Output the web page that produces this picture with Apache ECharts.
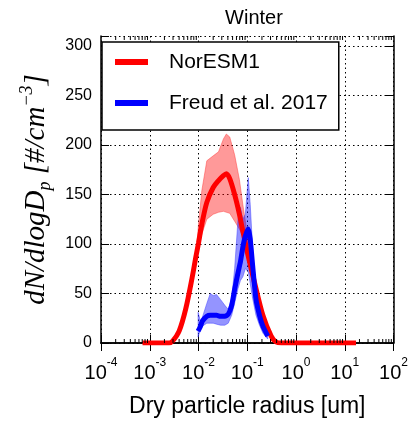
<!DOCTYPE html>
<html><head><meta charset="utf-8">
<script src="https://cdn.jsdelivr.net/npm/echarts@6/dist/echarts.min.js"></script>
<style>html,body{margin:0;padding:0;background:#fff}#c{width:411px;height:426px}</style>
</head><body><div id="c"></div>
<script>
// NorESM1 (model)
const redRadius = [0.00071, 0.0025, 0.00295, 0.004, 0.0055, 0.0074, 0.0089, 0.01, 0.0117, 0.0148, 0.02, 0.0257, 0.0324, 0.0372, 0.0437, 0.055, 0.069, 0.081, 0.1, 0.12, 0.141, 0.209, 0.309, 0.389, 0.5, 17];
const redMean   = [0, 0, 2, 12, 35, 66, 88, 101, 120, 142, 157, 164, 169, 171, 166, 150, 130, 113, 92, 75, 61, 28, 7, 1, 0, 0];
const redHigh   = [0, 0, 2, 12, 35, 66, 88, 120, 154, 184, 189, 193, 206, 211, 208, 190, 165, 140, 110, 85, 64, 30, 7, 1, 0, 0];
const redLow    = [0, 0, 2, 12, 35, 66, 88, 96, 110, 125, 130, 132, 133, 132, 131, 123, 115, 108, 90, 72, 58, 26, 6, 1, 0, 0];
// Freud et al. 2017 (observations)
const blueRadius = [0.0098, 0.011, 0.012, 0.0148, 0.0174, 0.02, 0.0234, 0.0282, 0.0347, 0.0407, 0.0479, 0.055, 0.0646, 0.0724, 0.0813, 0.0912, 0.105, 0.115, 0.129, 0.151, 0.178, 0.209, 0.263];
const blueMean   = [12, 17, 22, 27, 28, 28, 28, 27, 27, 29, 38, 54, 71, 82, 97, 108, 115, 105, 78, 44, 28, 17, 7];
const blueHigh   = [31, 22, 26, 40, 50, 48, 49, 44, 38, 34, 45, 75, 125, 137, 125, 130, 167, 140, 95, 55, 33, 22, 10];
const blueLow    = [6, 14, 17, 20, 20, 20, 19, 18, 18, 20, 28, 40, 55, 63, 67, 75, 72, 60, 45, 28, 18, 10, 4];
// axes
const xTickExponents = ['-4', '-3', '-2', '-1', '0', '1', '2'];
const yTickLabels = [0, 50, 100, 150, 200, 250, 300];
const minorMultipliers = [2, 3, 4, 5, 6, 7, 8, 9];
const decadeStarts = [1e-4, 1e-3, 1e-2, 1e-1, 1, 10];

const FONT = '"Liberation Sans", Arial, sans-serif';
const SERIF = '"Liberation Serif", serif';
const minorTickValues = [];
decadeStarts.forEach(d => minorMultipliers.forEach(m => minorTickValues.push([m * d, 0])));

function pairs(xs, ys) { return xs.map((x, i) => [x, ys[i]]); }

function band(name, xs, lo, hi, fill, edge) {
  return {
    type: 'custom', name: name, silent: true, z: 1,
    xAxisIndex: 0, yAxisIndex: 0,
    data: [[xs[0], lo[0]]],
    renderItem: function (params, api) {
      const pts = [];
      for (let i = 0; i < xs.length; i++) pts.push(api.coord([xs[i], hi[i]]));
      for (let i = xs.length - 1; i >= 0; i--) pts.push(api.coord([xs[i], lo[i]]));
      return { type: 'polygon', shape: { points: pts }, style: { fill: fill, stroke: edge, lineWidth: 0.8 } };
    }
  };
}

const chart = echarts.init(document.getElementById('c'), null, { renderer: 'canvas' });
chart.setOption({
  animation: false,
  backgroundColor: '#fff',
  title: {
    text: 'Winter', left: 249, top: 3, textAlign: 'center',
    textStyle: { fontFamily: FONT, fontSize: 20, fontWeight: 'normal', color: '#000' }
  },
  grid: { left: 101, right: 13, top: 36, bottom: 83, containLabel: false },
  legend: {
    orient: 'vertical', left: 102, top: 42,
    data: ['NorESM1', 'Freud et al. 2017'],
    icon: 'rect', itemWidth: 33, itemHeight: 6, itemGap: 17,
    padding: [8, 11, 15, 13],
    borderColor: '#000', borderWidth: 1.5, backgroundColor: '#fff',
    textStyle: { fontFamily: FONT, fontSize: 21, lineHeight: 24, color: '#000', padding: [0, 0, 0, 16] },
    z: 10
  },
  xAxis: [{
    type: 'log', logBase: 10, min: 1e-4, max: 1e2, position: 'bottom',
    name: 'Dry particle radius [um]', nameLocation: 'middle', nameGap: 52,
    nameTextStyle: { fontFamily: FONT, fontSize: 23, color: '#000' },
    axisLine: { lineStyle: { color: '#000', width: 1.5 } },
    axisTick: { inside: true, length: 8, lineStyle: { color: '#000', width: 1 } },
    axisLabel: {
      margin: 14, color: '#000',
      formatter: function (v) {
        const i = Math.round(Math.log10(v)) + 4;
        return '{b|10}{s|' + xTickExponents[i] + '}';
      },
      rich: {
        b: { fontFamily: FONT, fontSize: 20, color: '#000', lineHeight: 26, verticalAlign: 'bottom' },
        s: { fontFamily: FONT, fontSize: 12, color: '#000', lineHeight: 26, verticalAlign: 'top' }
      }
    },
    splitLine: { show: true, lineStyle: { color: '#000', width: 1, type: [1.5, 3] } }
  }, {
    type: 'log', logBase: 10, min: 1e-4, max: 1e2, position: 'top',
    axisLine: { lineStyle: { color: '#000', width: 1.5 } },
    axisTick: { inside: true, length: 8, lineStyle: { color: '#000', width: 1 } },
    axisLabel: { show: false }, splitLine: { show: false }
  }],
  yAxis: [{
    type: 'value', min: 0, max: 310, interval: 50, position: 'left',
    name: '{a|dN/dlogD}{p|p}{a| [#/cm}{e|\u22123}{a|]}',
    nameLocation: 'middle', nameGap: 46, nameRotate: 90,
    nameTextStyle: {
      rich: {
        a: { fontFamily: SERIF, fontStyle: 'italic', fontSize: 29, color: '#000', lineHeight: 36, verticalAlign: 'middle' },
        p: { fontFamily: SERIF, fontStyle: 'italic', fontSize: 18, color: '#000', lineHeight: 36, verticalAlign: 'bottom' },
        e: { fontFamily: SERIF, fontStyle: 'italic', fontSize: 18, color: '#000', lineHeight: 36, verticalAlign: 'top' }
      }
    },
    axisLine: { show: true, lineStyle: { color: '#000', width: 1.5 } },
    axisTick: { show: true, inside: true, length: 8, lineStyle: { color: '#000', width: 1 } },
    axisLabel: {
      margin: 9, color: '#000', fontFamily: FONT, fontSize: 16,
      formatter: function (v) { return yTickLabels.indexOf(v) >= 0 ? String(v) : ''; }
    },
    splitLine: { show: true, lineStyle: { color: '#000', width: 1, type: [1.5, 3] } }
  }, {
    type: 'value', min: 0, max: 310, interval: 50, position: 'right',
    axisLine: { show: true, lineStyle: { color: '#000', width: 1.5 } },
    axisTick: { show: true, inside: true, length: 8, lineStyle: { color: '#000', width: 1 } },
    axisLabel: { show: false }, splitLine: { show: false }
  }],
  series: [
    band('NorESM1 range', redRadius, redLow, redHigh, 'rgba(255,0,0,0.4)', 'rgba(255,60,60,0.6)'),
    band('Freud range', blueRadius, blueLow, blueHigh, 'rgba(0,0,255,0.42)', 'rgba(60,60,255,0.6)'),
    {
      type: 'line', name: 'NorESM1', data: pairs(redRadius, redMean), showSymbol: false, smooth: 0.3, z: 3,
      color: '#ff0000', lineStyle: { color: '#ff0000', width: 5 }
    },
    {
      type: 'line', name: 'Freud et al. 2017', data: pairs(blueRadius, blueMean), showSymbol: false, smooth: 0.2, z: 4,
      color: '#0000ff', lineStyle: { color: '#0000ff', width: 5 }
    },
    {
      type: 'custom', name: 'minor ticks', silent: true, z: 5,
      data: minorTickValues,
      renderItem: function (params, api) {
        const x = api.coord([api.value(0), 1])[0];
        const cs = params.coordSys;
        return { type: 'group', children: [
          { type: 'line', shape: { x1: x, y1: cs.y + cs.height, x2: x, y2: cs.y + cs.height - 4 }, style: { stroke: '#000', lineWidth: 1 } },
          { type: 'line', shape: { x1: x, y1: cs.y, x2: x, y2: cs.y + 4 }, style: { stroke: '#000', lineWidth: 1 } }
        ] };
      }
    }
  ]
});
</script></body></html>
